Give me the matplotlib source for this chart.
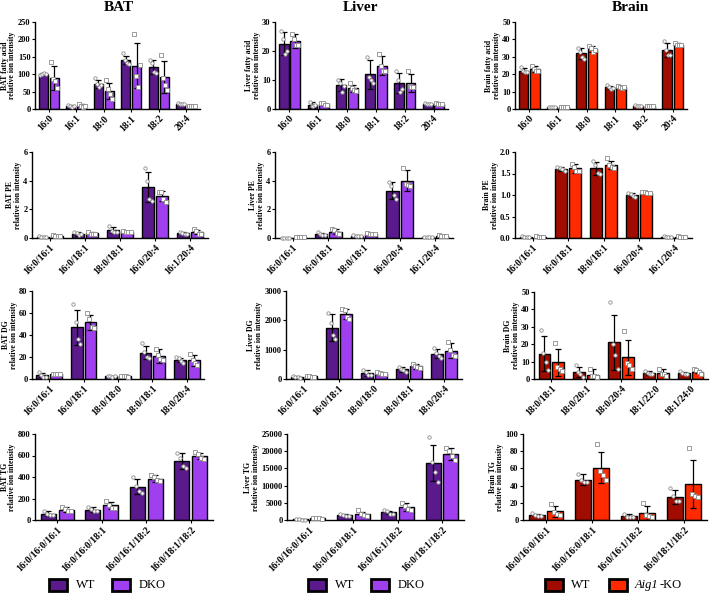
import numpy as np
import matplotlib
matplotlib.use('Agg')
import matplotlib.pyplot as plt
from matplotlib.patches import Rectangle

# ---------------- data ----------------
fa_cats = ['16:0', '16:1', '18:0', '18:1', '18:2', '20:4']
pe_cats = ['16:0/16:1', '16:0/18:1', '18:0/18:1', '16:0/20:4', '16:1/20:4']
dg_cats = ['16:0/16:1', '16:0/18:1', '18:0/18:0', '18:0/18:1', '18:0/20:4']
brain_dg_cats = ['18:0/18:1', '18:0/20:1', '18:0/20:4', '18:1/22:0', '18:1/24:0']
tg_cats = ['16:0/16:0/16:1', '16:0/16:0/18:1', '16:0/16:1/18:2', '16:0/18:1/18:2']

# BAT fatty acid
bat_fa_wt = [100, 9, 72, 140, 120, 14]
bat_fa_wt_sd = [3, 3, 12, 12, 20, 2]
bat_fa_ko = [90, 10, 52, 125, 92, 9]
bat_fa_ko_sd = [35, 5, 22, 65, 45, 2]
bat_fa_wt_pts = [[98, 101, 103, 100], [12, 8, 7, 10], [88, 72, 62, 68], [160, 140, 132, 130], [140, 132, 105, 104], [16, 13, 14, 13]]
bat_fa_ko_pts = [[135, 85, 80, 60], [15, 8, 7, 10], [82, 58, 42, 28], [215, 95, 64, 126], [155, 90, 70, 55], [10, 9, 8, 9]]

# Liver fatty acid
liver_fa_wt = [22.5, 1.5, 8.2, 12, 9, 1.8]
liver_fa_wt_sd = [4, 1, 2, 5, 3.5, 0.4]
liver_fa_ko = [23.5, 1.8, 7.2, 15, 9, 1.8]
liver_fa_ko_sd = [2.5, 0.4, 1.2, 3.2, 3, 0.4]
liver_fa_wt_pts = [[27, 24, 19, 20], [2.5, 1.2, 1, 1.3], [10, 9, 6, 8], [18, 11, 10, 9], [13, 10, 6, 7], [2.2, 1.8, 1.6, 1.6]]
liver_fa_ko_pts = [[26, 24, 22, 22], [2.2, 2, 1.5, 1.5], [9, 7.2, 6.5, 6.1], [19, 15, 13, 13], [13, 8, 7.5, 7.5], [2.2, 1.8, 1.6, 1.6]]

# Brain fatty acid
brain_fa_wt = [22, 1, 32, 12.5, 1.8, 34]
brain_fa_wt_sd = [1.5, 0.2, 3, 1, 0.5, 4]
brain_fa_ko = [23, 1.2, 34.5, 12.5, 1.8, 37]
brain_fa_ko_sd = [1.5, 0.2, 1.5, 1, 0.3, 0.8]
brain_fa_wt_pts = [[24, 22, 21, 21], [1.1, 1, 0.9, 1], [35, 33, 30, 29], [14, 12.5, 11.5, 12], [2.3, 1.7, 1.6, 1.6], [39, 34, 31, 31]]
brain_fa_ko_pts = [[25, 23, 22, 22], [1.3, 1.2, 1.1, 1.2], [36, 35, 33, 34], [13, 12.5, 12, 12.5], [2, 1.8, 1.7, 1.7], [38, 37, 36.5, 37]]

# BAT PE
bat_pe_wt = [0.1, 0.3, 0.55, 3.55, 0.35]
bat_pe_wt_sd = [0.05, 0.15, 0.2, 1.05, 0.1]
bat_pe_ko = [0.15, 0.33, 0.45, 2.9, 0.42]
bat_pe_ko_sd = [0.05, 0.1, 0.05, 0.35, 0.15]
bat_pe_wt_pts = [[0.15, 0.1, 0.08, 0.07], [0.45, 0.35, 0.2, 0.25], [0.85, 0.5, 0.45, 0.45], [4.9, 4.0, 2.7, 2.6], [0.45, 0.35, 0.3, 0.3]]
bat_pe_ko_pts = [[0.2, 0.15, 0.12, 0.13], [0.45, 0.3, 0.3, 0.28], [0.5, 0.45, 0.42, 0.43], [3.2, 3.2, 2.7, 2.5], [0.6, 0.5, 0.3, 0.3]]

# Liver PE
liver_pe_wt = [0.02, 0.28, 0.15, 3.3, 0.05]
liver_pe_wt_sd = [0.01, 0.08, 0.05, 0.6, 0.02]
liver_pe_ko = [0.05, 0.45, 0.28, 4.0, 0.15]
liver_pe_ko_sd = [0.02, 0.15, 0.05, 0.75, 0.05]
liver_pe_wt_pts = [[0.03, 0.02, 0.02, 0.01], [0.4, 0.3, 0.22, 0.2], [0.2, 0.15, 0.12, 0.13], [3.9, 3.6, 3.0, 2.75], [0.06, 0.05, 0.05, 0.04]]
liver_pe_ko_pts = [[0.07, 0.05, 0.04, 0.04], [0.65, 0.55, 0.33, 0.3], [0.32, 0.3, 0.25, 0.25], [4.9, 3.8, 3.7, 3.6], [0.2, 0.17, 0.12, 0.11]]

# Brain PE
brain_pe_wt = [0.03, 1.6, 1.62, 1.0, 0.03]
brain_pe_wt_sd = [0.01, 0.05, 0.15, 0.04, 0.01]
brain_pe_ko = [0.03, 1.62, 1.7, 1.05, 0.03]
brain_pe_ko_sd = [0.01, 0.1, 0.1, 0.02, 0.01]
brain_pe_wt_pts = [[0.04, 0.03, 0.03, 0.03], [1.66, 1.63, 1.6, 1.55], [1.78, 1.7, 1.52, 1.5], [1.05, 1.03, 0.98, 0.95], [0.04, 0.03, 0.03, 0.03]]
brain_pe_ko_pts = [[0.04, 0.03, 0.03, 0.03], [1.73, 1.65, 1.56, 1.55], [1.85, 1.7, 1.65, 1.62], [1.07, 1.06, 1.04, 1.04], [0.04, 0.03, 0.03, 0.03]]

# BAT DG
bat_dg_wt = [3.5, 47, 2.5, 24, 17.5]
bat_dg_wt_sd = [2, 16, 0.6, 6, 2]
bat_dg_ko = [4.5, 51.5, 2.5, 21, 17]
bat_dg_ko_sd = [0.5, 7, 0.5, 6, 5]
bat_dg_wt_pts = [[6, 4, 2, 2], [68, 52, 36, 32], [3, 2.5, 2.2, 2.3], [33, 25, 20, 19], [20, 19, 16, 15]]
bat_dg_ko_pts = [[5, 4.5, 4.3, 4.2], [60, 55, 47, 46], [3, 2.5, 2.3, 2.2], [27, 22, 18, 17], [23, 17, 15, 13]]

# Liver DG
liver_dg_wt = [70, 1750, 200, 330, 860]
liver_dg_wt_sd = [30, 470, 100, 80, 160]
liver_dg_ko = [90, 2220, 200, 430, 970]
liver_dg_ko_sd = [15, 180, 50, 80, 250]
liver_dg_wt_pts = [[100, 70, 60, 50], [2250, 1900, 1500, 1350], [290, 230, 150, 130], [420, 350, 300, 250], [1050, 900, 800, 700]]
liver_dg_ko_pts = [[105, 90, 85, 80], [2400, 2350, 2100, 2050], [250, 210, 180, 170], [500, 440, 400, 380], [1250, 1000, 820, 800]]

# Brain DG
brain_dg_wt = [14.5, 4, 21, 3.5, 3.5]
brain_dg_wt_sd = [10, 3, 16, 1, 0.8]
brain_dg_ko = [9.5, 2.5, 12.5, 3.5, 4.3]
brain_dg_ko_sd = [7.5, 3, 10, 2, 1]
brain_dg_wt_pts = [[28, 15, 10, 5], [8, 4, 3, 1], [44, 20, 14, 6], [4.5, 3.5, 3, 3], [4.5, 3.5, 3, 3]]
brain_dg_ko_pts = [[20.5, 7, 6, 4.5], [6, 2, 1.5, 1], [27.5, 9, 8, 6], [6, 3, 3, 2], [5.5, 5, 4, 3]]

# BAT TG
bat_tg_wt = [60, 95, 310, 545]
bat_tg_wt_sd = [20, 22, 70, 75]
bat_tg_ko = [95, 135, 385, 595]
bat_tg_ko_sd = [25, 35, 30, 30]
bat_tg_wt_pts = [[80, 60, 50, 50], [120, 100, 80, 80], [400, 320, 270, 250], [625, 580, 500, 480]]
bat_tg_ko_pts = [[120, 100, 80, 80], [180, 140, 110, 110], [420, 400, 370, 360], [630, 610, 580, 570]]

# Liver TG
liver_tg_wt = [150, 1400, 2200, 16500]
liver_tg_wt_sd = [60, 300, 500, 5300]
liver_tg_ko = [500, 1800, 3700, 19200]
liver_tg_ko_sd = [150, 500, 1200, 1800]
liver_tg_wt_pts = [[200, 150, 130, 120], [1700, 1400, 1300, 1200], [2800, 2500, 1800, 1700], [24000, 17000, 14000, 11000]]
liver_tg_ko_pts = [[650, 500, 450, 400], [2800, 1800, 1500, 1100], [5000, 4000, 3200, 2800], [21000, 20000, 18500, 17500]]

# Brain TG
brain_tg_wt = [6, 47, 4.5, 27]
brain_tg_wt_sd = [1.5, 6, 2, 8]
brain_tg_ko = [10, 61, 8.5, 42]
brain_tg_ko_sd = [6, 18, 8, 28]
brain_tg_wt_pts = [[8, 6, 5, 5], [53, 47, 44, 44], [7, 4, 3.5, 3.5], [37, 28, 22, 22]]
brain_tg_ko_pts = [[19, 9, 7, 6], [88, 57, 52, 47], [20, 6, 5, 4], [84, 30, 28, 27]]

# ---------------- style ----------------
W, H = 713, 595
fig = plt.figure(figsize=(W / 100, H / 100), dpi=100)
SERIF = 'Liberation Serif'
PURPLE = ('#5a1a8c', '#a03ff0')
RED = ('#a00c00', '#ff2a00')
YTICK_FS = 6.0
XTICK_FS = 7.0
YLAB_FS = 5.6


def panel(rect, cats, wt, wt_sd, ko, ko_sd, wt_pts, ko_pts, yticks, ylabel, colors, fmt=None):
    x0, x1, yt, yb = rect
    ax = fig.add_axes([x0 / W, 1 - yb / H, (x1 - x0) / W, (yb - yt) / H])
    n = len(cats)
    x = np.arange(n)
    bw, off = 0.34, 0.2
    jit = np.array([-0.3, -0.1, 0.1, 0.3]) * bw
    for sign, m, sd, pts, col, mk in [(-1, wt, wt_sd, wt_pts, colors[0], 'o'),
                                       (1, ko, ko_sd, ko_pts, colors[1], 's')]:
        xs = x + sign * off
        ax.bar(xs, m, width=bw, color=col, edgecolor='black', linewidth=1.0, zorder=2)
        ax.errorbar(xs, m, yerr=sd, fmt='none', ecolor='black', elinewidth=0.9,
                    capsize=2.2, capthick=0.9, zorder=3)
        for xi, p in zip(xs, pts):
            ax.scatter(xi + jit[:len(p)], p, s=6, marker=mk, facecolor='white',
                       edgecolor='#8c8c8c', linewidth=0.6, zorder=4, clip_on=False)
    ax.set_xlim(-0.5, n - 0.5)
    ax.set_ylim(yticks[0], yticks[-1])
    ax.set_yticks(yticks)
    if fmt:
        ax.set_yticklabels([fmt.format(v) for v in yticks])
    ax.set_xticks(x)
    ax.set_xticklabels(cats, rotation=45, ha='right', va='top', rotation_mode='anchor')
    for lab in ax.get_xticklabels():
        lab.set_fontfamily(SERIF)
        lab.set_fontweight('bold')
        lab.set_fontsize(XTICK_FS)
    for lab in ax.get_yticklabels():
        lab.set_fontfamily(SERIF)
        lab.set_fontweight('bold')
        lab.set_fontsize(YTICK_FS)
    ax.tick_params(axis='y', length=2.2, width=0.8, pad=1.0)
    ax.tick_params(axis='x', length=2, width=0.8, pad=1.5)
    for s in ['top', 'right']:
        ax.spines[s].set_visible(False)
    for s in ['left', 'bottom']:
        ax.spines[s].set_linewidth(1.0)
    ax.set_ylabel(ylabel, fontfamily=SERIF, fontweight='bold', fontsize=YLAB_FS,
                  labelpad=1.0, linespacing=0.95)
    return ax


RI = 'relative ion intensity'
panel((35, 200, 22, 109), fa_cats, bat_fa_wt, bat_fa_wt_sd, bat_fa_ko, bat_fa_ko_sd,
      bat_fa_wt_pts, bat_fa_ko_pts, [0, 50, 100, 150, 200, 250], 'BAT fatty acid\n' + RI, PURPLE)
panel((275, 448, 22, 109), fa_cats, liver_fa_wt, liver_fa_wt_sd, liver_fa_ko, liver_fa_ko_sd,
      liver_fa_wt_pts, liver_fa_ko_pts, [0, 10, 20, 30], 'Liver fatty acid\n' + RI, PURPLE)
panel((515, 687, 22, 109), fa_cats, brain_fa_wt, brain_fa_wt_sd, brain_fa_ko, brain_fa_ko_sd,
      brain_fa_wt_pts, brain_fa_ko_pts, [0, 10, 20, 30, 40, 50], 'Brain fatty acid\n' + RI, RED)

panel((32, 208, 152, 238), pe_cats, bat_pe_wt, bat_pe_wt_sd, bat_pe_ko, bat_pe_ko_sd,
      bat_pe_wt_pts, bat_pe_ko_pts, [0, 2, 4, 6], 'BAT PE\n' + RI, PURPLE)
panel((275, 453, 152, 238), pe_cats, liver_pe_wt, liver_pe_wt_sd, liver_pe_ko, liver_pe_ko_sd,
      liver_pe_wt_pts, liver_pe_ko_pts, [0, 2, 4, 6], 'Liver PE\n' + RI, PURPLE)
panel((515, 692, 152, 238), pe_cats, brain_pe_wt, brain_pe_wt_sd, brain_pe_ko, brain_pe_ko_sd,
      brain_pe_wt_pts, brain_pe_ko_pts, [0, 0.5, 1.0, 1.5, 2.0], 'Brain PE\n' + RI, RED, fmt='{:.1f}')

panel((32, 204, 291, 379), dg_cats, bat_dg_wt, bat_dg_wt_sd, bat_dg_ko, bat_dg_ko_sd,
      bat_dg_wt_pts, bat_dg_ko_pts, [0, 20, 40, 60, 80], 'BAT DG\n' + RI, PURPLE)
panel((286, 462, 291, 379), dg_cats, liver_dg_wt, liver_dg_wt_sd, liver_dg_ko, liver_dg_ko_sd,
      liver_dg_wt_pts, liver_dg_ko_pts, [0, 1000, 2000, 3000], 'Liver DG\n' + RI, PURPLE)
panel((534, 708, 292, 379), brain_dg_cats, brain_dg_wt, brain_dg_wt_sd, brain_dg_ko, brain_dg_ko_sd,
      brain_dg_wt_pts, brain_dg_ko_pts, [0, 10, 20, 30, 40, 50], 'Brain DG\n' + RI, RED)

panel((35, 213, 434, 520), tg_cats, bat_tg_wt, bat_tg_wt_sd, bat_tg_ko, bat_tg_ko_sd,
      bat_tg_wt_pts, bat_tg_ko_pts, [0, 200, 400, 600, 800], 'BAT TG\n' + RI, PURPLE)
panel((287, 464, 434, 520), tg_cats, liver_tg_wt, liver_tg_wt_sd, liver_tg_ko, liver_tg_ko_sd,
      liver_tg_wt_pts, liver_tg_ko_pts, [0, 5000, 10000, 15000, 20000, 25000], 'Liver TG\n' + RI, PURPLE)
panel((523, 707, 434, 520), tg_cats, brain_tg_wt, brain_tg_wt_sd, brain_tg_ko, brain_tg_ko_sd,
      brain_tg_wt_pts, brain_tg_ko_pts, [0, 20, 40, 60, 80, 100], 'Brain TG\n' + RI, RED)

# titles
for xc, t in [(119, 'BAT'), (361, 'Liver'), (630, 'Brain')]:
    fig.text(xc / W, 1 - 7.5 / H, t, ha='center', va='center', fontsize=11,
             fontweight='bold', fontfamily=SERIF)


# legends
def legend_box(x, y, w, h, col):
    fig.add_artist(Rectangle((x / W, 1 - (y + h) / H), w / W, h / H, transform=fig.transFigure,
                             facecolor=col, edgecolor='black', linewidth=2.0))


LY, LH = 579, 12
for (bx1, tx1, bx2, tx2, cols, lab2) in [(49, 76, 112, 139, PURPLE, 'DKO'),
                                         (308, 335, 371, 398, PURPLE, 'DKO')]:
    legend_box(bx1, LY, 18, LH, cols[0])
    fig.text(tx1 / W, 1 - (LY + LH / 2) / H, 'WT', ha='left', va='center', fontsize=9, fontfamily=SERIF)
    legend_box(bx2, LY, 18, LH, cols[1])
    fig.text(tx2 / W, 1 - (LY + LH / 2) / H, lab2, ha='left', va='center', fontsize=9, fontfamily=SERIF)

legend_box(545, LY, 18, LH, RED[0])
fig.text(571 / W, 1 - (LY + LH / 2) / H, 'WT', ha='left', va='center', fontsize=9, fontfamily=SERIF)
legend_box(609, LY, 18, LH, RED[1])
fig.text(635 / W, 1 - (LY + LH / 2) / H, 'Aig1', ha='left', va='center', fontsize=9,
         fontfamily=SERIF, fontstyle='italic')
fig.text(660 / W, 1 - (LY + LH / 2) / H, '-KO', ha='left', va='center', fontsize=9, fontfamily=SERIF)

fig.savefig('out.png', dpi=100)
